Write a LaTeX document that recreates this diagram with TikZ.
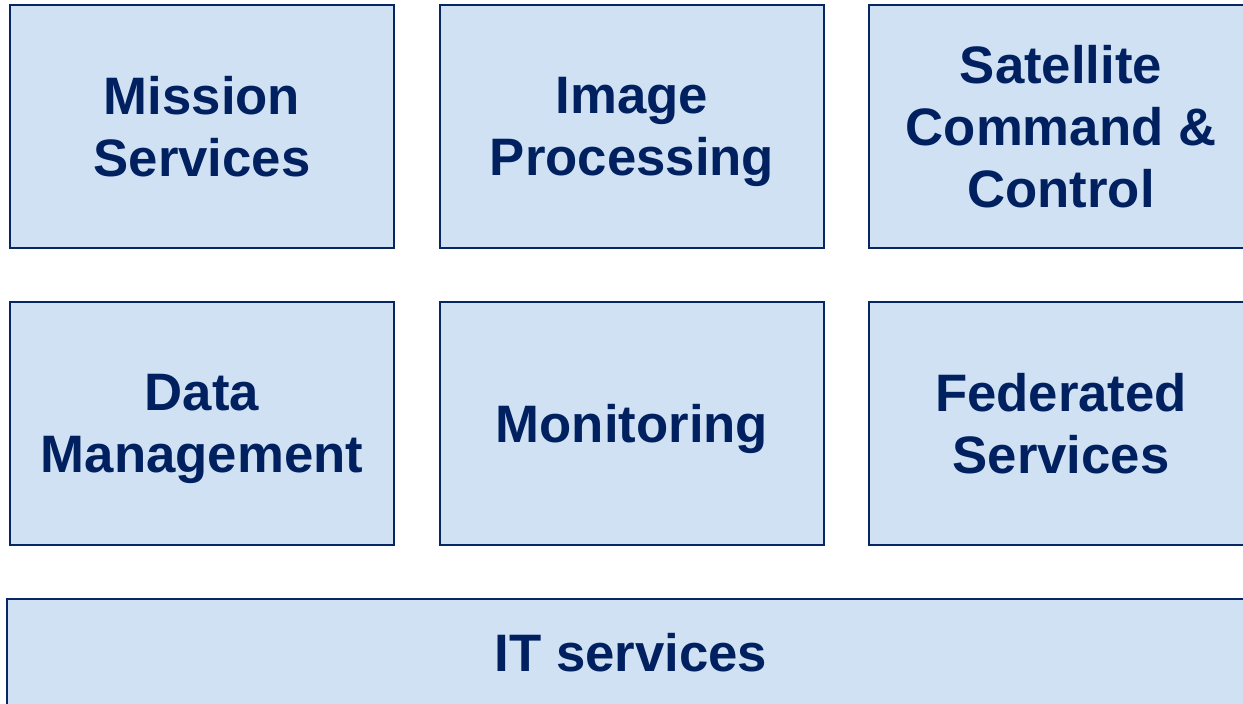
\documentclass[tikz,border=0pt]{standalone}
\usepackage{fontspec}
\setmainfont{Liberation Sans}
\usetikzlibrary{positioning}
\definecolor{boxfill}{HTML}{CFE1F2}
\definecolor{boxline}{HTML}{062763}
\definecolor{boxtext}{HTML}{002060}
\tikzset{
	svcbox/.style={draw=boxline, line width=1.4pt, fill=boxfill, text=boxtext,
		minimum width=7.68cm, minimum height=4.86cm, align=center, inner sep=0pt,
		text depth=0pt, font=\fontsize{30}{35.5}\selectfont\bfseries},
}
\begin{document}
\begin{tikzpicture}[x=0.02cm,y=-0.02cm]
	\useasboundingbox (0,0) rectangle (1243,703);

	%% Top row
	\node [svcbox] (mission) at (202,126.5) {Mission\\Services};
	\node [svcbox] (image) at (632,126.5) {Image\\Processing};
	\node [svcbox] (satellite) at (1061,126.5) {Satellite\\Command \&\\Control};

	%% Middle row
	\node [svcbox] (data) at (202,423.5) {Data\\Management};
	\node [svcbox] (monitoring) at (632,423.5) {Monitoring};
	\node [svcbox] (federated) at (1061,423.5) {Federated\\Services};

	%% Base layer
	\node [svcbox, minimum width=24.96cm, minimum height=2.12cm] (it) at (631,652) {IT services};
\end{tikzpicture}
\end{document}
